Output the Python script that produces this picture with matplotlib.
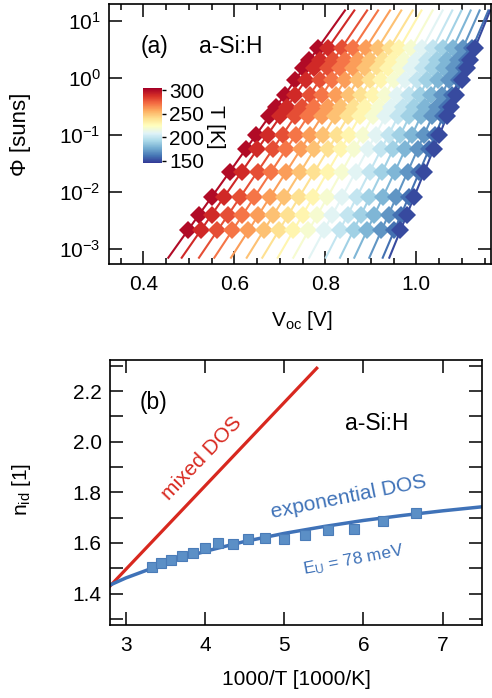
import matplotlib
matplotlib.use("Agg")
import matplotlib.pyplot as plt
from matplotlib.ticker import MultipleLocator, LogLocator, NullLocator, LogFormatterMathtext
import matplotlib.colors as mcolors
import matplotlib.cm as cm

plt.rcParams['font.family'] = ['Liberation Sans', 'DejaVu Sans']
plt.rcParams['mathtext.fontset'] = 'custom'
plt.rcParams['mathtext.rm'] = 'Liberation Sans'
plt.rcParams['mathtext.it'] = 'Liberation Sans:italic'
plt.rcParams['mathtext.bf'] = 'Liberation Sans:bold'

# ---------------- data: panel (a) ----------------
temps = [300, 290, 280, 270, 260, 250, 240, 230, 220, 210, 200, 190, 180, 170, 160, 150]
phi_levels = [3.31, 2.04, 1.46, 0.912, 0.501, 0.309, 0.209, 0.100, 0.055, 0.0224, 0.00794, 0.00389, 0.00209]
voc = [
    [0.784, 0.765, 0.752, 0.734, 0.711, 0.692, 0.677, 0.648, 0.625, 0.590, 0.550, 0.522, 0.498],
    [0.806, 0.788, 0.775, 0.757, 0.734, 0.716, 0.701, 0.673, 0.650, 0.616, 0.577, 0.550, 0.526],
    [0.836, 0.818, 0.805, 0.788, 0.766, 0.748, 0.733, 0.706, 0.684, 0.651, 0.613, 0.586, 0.563],
    [0.861, 0.844, 0.832, 0.815, 0.793, 0.776, 0.762, 0.735, 0.714, 0.681, 0.644, 0.618, 0.596],
    [0.889, 0.872, 0.860, 0.844, 0.823, 0.806, 0.792, 0.767, 0.746, 0.714, 0.678, 0.653, 0.631],
    [0.915, 0.899, 0.888, 0.872, 0.851, 0.835, 0.821, 0.796, 0.776, 0.745, 0.710, 0.686, 0.665],
    [0.942, 0.926, 0.915, 0.899, 0.879, 0.863, 0.850, 0.826, 0.806, 0.776, 0.742, 0.718, 0.698],
    [0.963, 0.948, 0.937, 0.922, 0.904, 0.888, 0.876, 0.853, 0.834, 0.805, 0.772, 0.750, 0.730],
    [0.989, 0.974, 0.964, 0.950, 0.931, 0.917, 0.905, 0.882, 0.864, 0.836, 0.804, 0.782, 0.763],
    [1.013, 0.999, 0.989, 0.975, 0.958, 0.944, 0.932, 0.911, 0.893, 0.867, 0.836, 0.815, 0.797],
    [1.037, 1.023, 1.014, 1.001, 0.984, 0.971, 0.960, 0.939, 0.923, 0.898, 0.869, 0.849, 0.832],
    [1.059, 1.046, 1.037, 1.024, 1.008, 0.995, 0.985, 0.965, 0.949, 0.925, 0.897, 0.878, 0.862],
    [1.081, 1.068, 1.060, 1.048, 1.032, 1.020, 1.010, 0.991, 0.976, 0.953, 0.926, 0.908, 0.892],
    [1.102, 1.091, 1.082, 1.071, 1.056, 1.045, 1.035, 1.017, 1.003, 0.981, 0.956, 0.939, 0.923],
    [1.123, 1.112, 1.104, 1.093, 1.079, 1.068, 1.059, 1.042, 1.028, 1.007, 0.983, 0.966, 0.952],
    [1.129, 1.118, 1.111, 1.100, 1.087, 1.076, 1.067, 1.051, 1.038, 1.018, 0.995, 0.979, 0.965],
]
# fitted lines: end points
fit_phi = [6.95e-4, 15.1]
fit_v_lo = [0.4549, 0.4844, 0.5224, 0.5560, 0.5927, 0.6273, 0.6615, 0.6954,
            0.7297, 0.7648, 0.8009, 0.8323, 0.8637, 0.8967, 0.9262, 0.9407]
fit_v_hi = [0.8432, 0.8638, 0.8919, 0.9160, 0.9423, 0.9670, 0.9920, 1.0114,
            1.0359, 1.0578, 1.0791, 1.0993, 1.1195, 1.1392, 1.1584, 1.1624]

# ---------------- data: panel (b) ----------------
inv_T = [3.333, 3.448, 3.571, 3.704, 3.846, 4.0, 4.167, 4.348, 4.545, 4.762,
         5.0, 5.263, 5.556, 5.882, 6.25, 6.667]
n_id = [1.504, 1.52, 1.533, 1.549, 1.562, 1.579, 1.60, 1.596, 1.617, 1.621,
        1.616, 1.633, 1.651, 1.657, 1.686, 1.717]
exp_x = [2.8, 3.0, 3.5, 4.0, 4.5, 5.0, 5.5, 6.0, 6.5, 7.0, 7.5]
exp_y = [1.434, 1.462, 1.520, 1.567, 1.606, 1.638, 1.665, 1.689, 1.709, 1.727, 1.743]
mix_x = [2.8, 5.41]
mix_y = [1.43, 2.29]

FS = 15
W, H = 492, 698
fig = plt.figure(figsize=(W/100, H/100), dpi=100)

def frac(l, t, r, b):
    return [l/W, 1-b/H, (r-l)/W, (b-t)/H]

# ---------------- panel (a) ----------------
ax = fig.add_axes(frac(109, 4, 491, 264))
cmap = plt.get_cmap('RdYlBu_r')
norm = mcolors.Normalize(vmin=145, vmax=304)
for i, T in enumerate(temps):
    c = cmap(norm(T))
    ax.plot([fit_v_lo[i], fit_v_hi[i]], fit_phi, '-', color=c, lw=1.5, zorder=2)
    ax.plot(voc[i], phi_levels, 'D', color=c, ms=9, mec=c, mew=0, zorder=3)
ax.set_yscale('log')
ax.set_xlim(0.3246, 1.1642)
ax.set_ylim(5.39e-4, 19.6)
ax.xaxis.set_major_locator(MultipleLocator(0.2))
ax.xaxis.set_minor_locator(MultipleLocator(0.05))
ax.yaxis.set_major_locator(LogLocator(base=10, numticks=20))
ax.yaxis.set_minor_locator(NullLocator())
ax.yaxis.set_major_formatter(LogFormatterMathtext())
ax.set_xticks([0.4, 0.6, 0.8, 1.0])
ax.set_xticklabels(['0.4', '0.6', '0.8', '1.0'])
ax.text(0.12, 0.838, '(a)', transform=ax.transAxes, fontsize=FS+1.5, ha='center', va='center')
ax.text(0.319, 0.838, 'a-Si:H', transform=ax.transAxes, fontsize=FS+1.5, ha='center', va='center')
ax.set_xlabel(r'V$_{\rm oc}$ [V]', fontsize=FS)
ax.set_ylabel('Φ [suns]', fontsize=FS+1)
ax.xaxis.set_label_coords(0.505, -0.172)
ax.yaxis.set_label_coords(-0.205, 0.5)

# colorbar
cax = fig.add_axes(frac(143, 88.3, 162, 163.3))
sm = cm.ScalarMappable(norm=norm, cmap=cmap)
cb = fig.colorbar(sm, cax=cax, ticks=[150, 200, 250, 300])
cb.outline.set_visible(False)
cax.tick_params(labelsize=FS, length=3, width=1, direction='out', pad=2)
fig.text(216/W, 1-127/H, 'T [K]', rotation=270, fontsize=FS, ha='center', va='center')

# ---------------- panel (b) ----------------
bx = fig.add_axes(frac(110, 360, 482.3, 625))
blue_line = '#3f72b8'
blue_face = '#5b8fc6'
red = '#d8281f'
bx.plot(mix_x, mix_y, '-', color=red, lw=2.3, zorder=2)
bx.plot(exp_x, exp_y, '-', color=blue_line, lw=2.5, zorder=2)
bx.plot(inv_T, n_id, 's', color=blue_face, ms=7, mec='#4a7cb8', mew=0.8, zorder=3)
bx.set_xlim(2.8, 7.5)
bx.set_ylim(1.2763, 2.3224)
bx.xaxis.set_major_locator(MultipleLocator(1))
bx.yaxis.set_major_locator(MultipleLocator(0.2))
bx.yaxis.set_minor_locator(MultipleLocator(0.1))
bx.set_yticks([1.4, 1.6, 1.8, 2.0, 2.2])
bx.set_yticklabels(['1.4', '1.6', '1.8', '2.0', '2.2'])
bx.text(0.118, 0.838, '(b)', transform=bx.transAxes, fontsize=FS+1.5, ha='center', va='center')
bx.text(0.717, 0.762, 'a-Si:H', transform=bx.transAxes, fontsize=FS+1.5, ha='center', va='center')
bx.text(0.246, 0.629, 'mixed DOS', transform=bx.transAxes, fontsize=FS, color=red,
        rotation=46.5, ha='center', va='center', rotation_mode='anchor')
bx.text(0.642, 0.484, 'exponential DOS', transform=bx.transAxes, fontsize=FS, color=blue_line,
        rotation=11.4, ha='center', va='center', rotation_mode='anchor')
bx.text(0.654, 0.245, r'E$_{\rm U}$ = 78 meV', transform=bx.transAxes, fontsize=FS-2.5, color=blue_line,
        rotation=11, ha='center', va='center', rotation_mode='anchor')
bx.set_xlabel('1000/T [1000/K]', fontsize=FS)
bx.set_ylabel(r'n$_{\rm id}$ [1]', fontsize=FS)
bx.xaxis.set_label_coords(0.502, -0.168)
bx.yaxis.set_label_coords(-0.207, 0.51)

for a in (ax, bx):
    for s in a.spines.values():
        s.set_linewidth(1.2)
    a.tick_params(which='both', direction='in', top=True, right=True, labelsize=FS, width=1.1)
    a.tick_params(axis='y', which='both', pad=6)
    a.tick_params(axis='x', which='both', pad=8)
ax.tick_params(which='major', length=9.5)
ax.tick_params(which='minor', length=4.5)
bx.tick_params(which='both', length=9.5)

fig.savefig('out.png', dpi=100)
